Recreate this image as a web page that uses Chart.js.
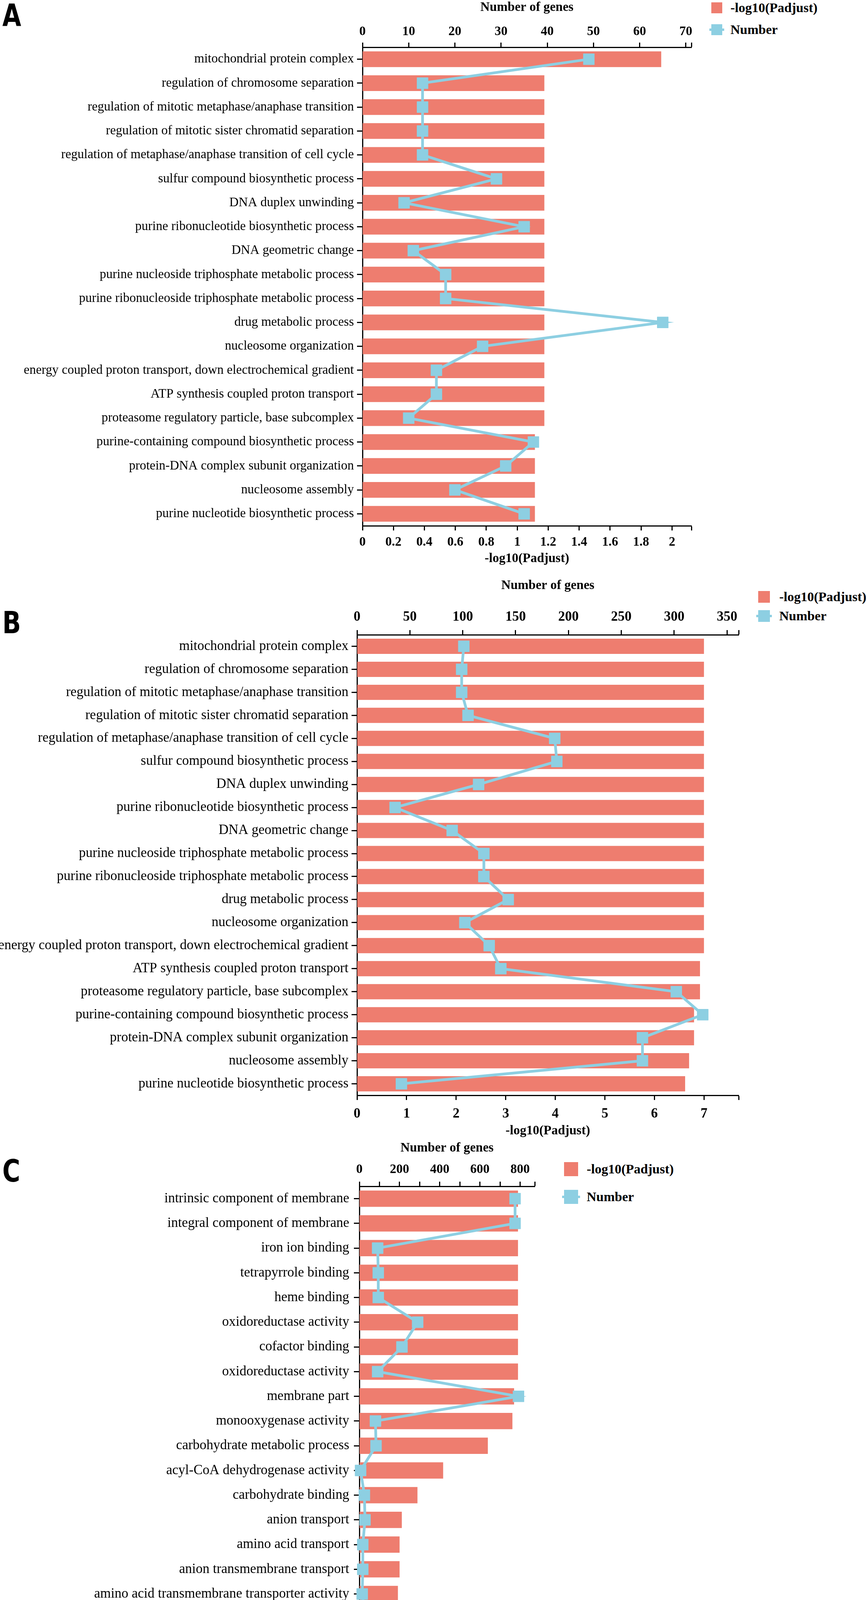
<!DOCTYPE html>
<html>
<head>
<meta charset="utf-8">
<script src="https://cdn.jsdelivr.net/npm/chart.js@4.4.1/dist/chart.umd.min.js"></script>
<style>
  body { margin: 0; background: #fff; width: 2217px; height: 4426px; position: relative; overflow: hidden; }
  canvas { position: absolute; left: 0; }
  .letter { position: absolute; left: 6px; font: bold 78px "DejaVu Sans", sans-serif; line-height: 1; color: #000;
            transform: scaleX(0.8); transform-origin: left top; }
  .key-item { position: absolute; display: flex; align-items: center; white-space: nowrap;
              font: bold 34px "Liberation Serif", serif; color: #000; }
  .swatch { position: relative; flex: none; }
  .stub { position: absolute; left: -5px; right: -5px; top: 50%; height: 6px; margin-top: -3px; }
</style>
</head>
<body>
<div class="letter" style="top:0px">A</div>
<div class="letter" style="top:1555px">B</div>
<div class="letter" style="top:2959px">C</div>
<canvas id="chartA" width="1800" height="1450" style="top:0px"></canvas>
<canvas id="chartB" width="1920" height="1500" style="top:1450px"></canvas>
<canvas id="chartC" width="1400" height="1516" style="top:2910px"></canvas>
<div id="chart-legend"></div>
<script>
// ---- data ----
const termsAB = [
  'mitochondrial protein complex',
  'regulation of chromosome separation',
  'regulation of mitotic metaphase/anaphase transition',
  'regulation of mitotic sister chromatid separation',
  'regulation of metaphase/anaphase transition of cell cycle',
  'sulfur compound biosynthetic process',
  'DNA duplex unwinding',
  'purine ribonucleotide biosynthetic process',
  'DNA geometric change',
  'purine nucleoside triphosphate metabolic process',
  'purine ribonucleoside triphosphate metabolic process',
  'drug metabolic process',
  'nucleosome organization',
  'energy coupled proton transport, down electrochemical gradient',
  'ATP synthesis coupled proton transport',
  'proteasome regulatory particle, base subcomplex',
  'purine-containing compound biosynthetic process',
  'protein-DNA complex subunit organization',
  'nucleosome assembly',
  'purine nucleotide biosynthetic process'
];
const padjA  = [1.93, 1.175, 1.175, 1.175, 1.175, 1.175, 1.175, 1.175, 1.175, 1.175,
                1.175, 1.175, 1.175, 1.175, 1.175, 1.175, 1.114, 1.114, 1.114, 1.114];
const genesA = [49, 13, 13, 13, 13, 29, 9, 35, 11, 18, 18, 65, 26, 16, 16, 10, 37, 31, 20, 35];

const padjB  = [7.0, 7.0, 7.0, 7.0, 7.0, 7.0, 7.0, 7.0, 7.0, 7.0,
                7.0, 7.0, 7.0, 7.0, 6.92, 6.92, 6.80, 6.80, 6.70, 6.62];
const genesB = [101, 99, 99, 105, 187, 189, 115, 36, 90, 120, 120, 143, 102, 125, 136, 302, 327, 270, 270, 42];

const termsC = [
  'intrinsic component of membrane',
  'integral component of membrane',
  'iron ion binding',
  'tetrapyrrole binding',
  'heme binding',
  'oxidoreductase activity',
  'cofactor binding',
  'oxidoreductase activity',
  'membrane part',
  'monooxygenase activity',
  'carbohydrate metabolic process',
  'acyl-CoA dehydrogenase activity',
  'carbohydrate binding',
  'anion transport',
  'amino acid transport',
  'anion transmembrane transport',
  'amino acid transmembrane transporter activity',
  'DNA-binding transcription factor activity',
  'organic anion transport',
  'flavin adenine dinucleotide binding'
];
const padjC  = [2.84, 2.84, 2.84, 2.84, 2.84, 2.84, 2.84, 2.84, 2.77, 2.74,
                2.30, 1.50, 1.04, 0.76, 0.72, 0.72, 0.69, 0.68, 0.63, 0.63];
const genesC = [775, 775, 91, 94, 94, 290, 212, 91, 792, 80, 83, 6, 25, 28, 17, 17, 14, 30, 22, 44];

const seriesNames = ['-log10(Padjust)', 'Number'];
const barColor = '#EE7D6F';
const lineColor = '#8DCFE2';

// only label ticks that fall on "every"; other ticks keep their mark
function tickLabel(every, fmt) {
  return function (v) {
    let k = v / every;
    if (Math.abs(k - Math.round(k)) > 1e-6) return '';
    return fmt ? fmt(v) : String(Math.round(v * 1000) / 1000);
  };
}

const titleFont = { family: 'Liberation Serif', size: 33, weight: 'bold', lineHeight: 1 };

function makePanel(id, labels, padj, genes, p) {
  const ctx = document.getElementById(id).getContext('2d');
  const cw = ctx.canvas.width, ch = ctx.canvas.height;
  const tickFont = { family: 'Liberation Serif', size: p.tickSize, weight: 'bold' };
  return new Chart(ctx, {
    data: {
      labels: labels,
      datasets: [
        { type: 'line', label: seriesNames[1], data: genes, xAxisID: 'x2', yAxisID: 'y', indexAxis: 'y',
          borderColor: lineColor, borderWidth: 7, tension: 0, clip: false, order: 0,
          pointStyle: 'rect', pointRadius: 20, pointBackgroundColor: lineColor,
          pointBorderColor: lineColor, pointBorderWidth: 1 },
        { type: 'bar', label: seriesNames[0], data: padj, xAxisID: 'x', yAxisID: 'y', indexAxis: 'y',
          backgroundColor: barColor, borderWidth: 0, categoryPercentage: 1, barPercentage: 0.66, order: 1 }
      ]
    },
    options: {
      indexAxis: 'y',
      responsive: false,
      animation: false,
      devicePixelRatio: 1,
      layout: { padding: { left: 0, top: 0, bottom: 0, right: cw - p.right } },
      plugins: { legend: { display: false }, tooltip: { enabled: false } },
      scales: {
        y: {
          type: 'category', position: 'left', offset: true,
          afterFit: s => { s.width = p.left; },
          ticks: { autoSkip: false, padding: p.yPad, color: '#000',
                   font: { family: 'Liberation Serif', size: p.labelSize } },
          grid: { offset: false, drawOnChartArea: false, tickLength: 14, tickWidth: 3, tickColor: '#000' },
          border: { color: '#000', width: 3 }
        },
        x: {
          type: 'linear', position: 'bottom', min: 0, max: p.xMax,
          afterFit: s => { s.height = ch - p.bottom; },
          afterBuildTicks: s => { s.ticks.push({ value: s.max }); },
          ticks: { stepSize: p.xStep, includeBounds: false, autoSkip: false, maxRotation: 0,
                   padding: p.xPad, color: '#000', font: tickFont,
                   callback: tickLabel(p.xEvery, p.xFmt) },
          grid: { drawOnChartArea: false, tickLength: 12, tickWidth: 3, tickColor: '#000' },
          border: { color: '#000', width: 3 },
          title: { display: true, text: seriesNames[0], color: '#000', font: titleFont,
                   align: p.xTitleAlign || 'center', padding: { top: 0, bottom: p.xTitlePad } }
        },
        x2: {
          type: 'linear', position: 'top', min: 0, max: p.x2Max,
          afterFit: s => { s.height = p.top; },
          afterBuildTicks: s => { s.ticks.push({ value: s.max }); },
          ticks: { stepSize: p.x2Step, includeBounds: false, autoSkip: false, maxRotation: 0,
                   padding: p.x2Pad, color: '#000', font: tickFont,
                   callback: tickLabel(p.x2Every) },
          grid: { drawOnChartArea: false, tickLength: 12, tickWidth: 3, tickColor: '#000' },
          border: { color: '#000', width: 3 },
          title: { display: true, text: 'Number of genes', color: '#000', font: titleFont,
                   padding: { top: p.x2TitlePad, bottom: 0 } }
        }
      }
    }
  });
}

makePanel('chartA', termsAB, padjA, genesA, {
  left: 928, right: 1770, top: 121, bottom: 1346, yPad: 8, labelSize: 33, tickSize: 33,
  xMax: 2.125, xStep: 0.2, xEvery: 0.2, xPad: 11, xTitlePad: 3,
  x2Max: 71.2, x2Step: 10, x2Every: 10, x2Pad: 8, x2TitlePad: 3
});
makePanel('chartB', termsAB, padjB, genesB, {
  left: 914, right: 1891, top: 175, bottom: 1354, yPad: 8, labelSize: 35, tickSize: 35,
  xMax: 7.7, xStep: 1, xEvery: 1, xPad: 15, xTitlePad: 38,
  x2Max: 361, x2Step: 50, x2Every: 50, x2Pad: 12, x2TitlePad: 33
});
makePanel('chartC', termsC, padjC, genesC, {
  left: 920, right: 1369, top: 127, bottom: 1392, yPad: 12, labelSize: 35, tickSize: 33,
  xMax: 3.14, xStep: 0.2, xEvery: 1, xPad: 14, xTitlePad: 0, xTitleAlign: 'start',
  xFmt: v => (v === 0 ? '0' : v.toFixed(1)),
  x2Max: 873, x2Step: 100, x2Every: 200, x2Pad: 11, x2TitlePad: 13
});

// legends sit to the right of each plot, like the figure
function buildLegend(x, yBar, yLine, size, gap) {
  const legendChart = document.getElementById('chart-legend');
  [[yBar, barColor, seriesNames[0], false], [yLine, lineColor, seriesNames[1], true]].forEach(it => {
    const legendItem = document.createElement('div');
    legendItem.className = 'key-item';
    legendItem.style.left = x + 'px';
    legendItem.style.top = (it[0] - 25) + 'px';
    legendItem.style.height = '50px';
    const sw = document.createElement('div');
    sw.className = 'swatch';
    sw.style.width = size + 'px';
    sw.style.height = size + 'px';
    sw.style.background = it[1];
    sw.style.marginRight = gap + 'px';
    if (it[3]) {
      const stub = document.createElement('div');
      stub.className = 'stub';
      stub.style.background = it[1];
      sw.appendChild(stub);
    }
    legendItem.appendChild(sw);
    const labelTitle = document.createElement('span');
    labelTitle.textContent = it[2];
    legendItem.appendChild(labelTitle);
    legendChart.appendChild(legendItem);
  });
}
buildLegend(1821, 20, 76, 28, 21);
buildLegend(1941, 1528, 1577, 30, 24);
buildLegend(1444, 2993, 3064, 36, 22);
</script>
</body>
</html>
